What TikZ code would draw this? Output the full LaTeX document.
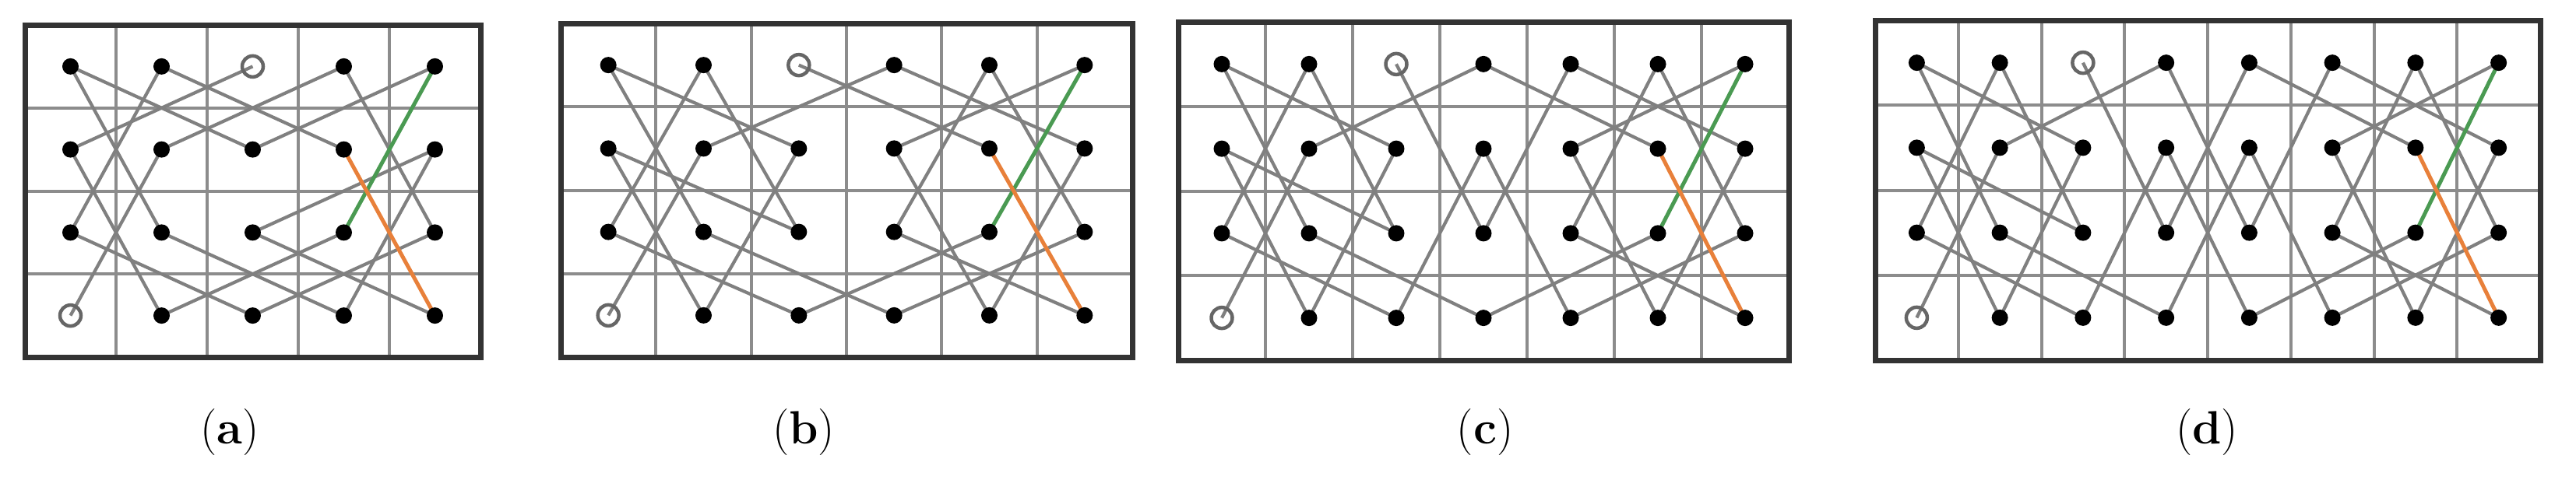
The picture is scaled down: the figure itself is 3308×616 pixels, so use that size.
\documentclass[tikz,border=0pt]{standalone}
\begin{document}
\begin{tikzpicture}[x=1pt,y=-1pt,
  grid/.style={line width=4pt,draw=black!45},
  frame/.style={line width=7pt,draw=black!80,line cap=round},
  edge/.style={line width=4.2pt,draw=black!50},
  gedge/.style={line width=5pt,draw={rgb,255:red,74;green,154;blue,82}},
  oedge/.style={line width=5pt,draw={rgb,255:red,232;green,128;blue,58}},
  dot/.style={circle,fill=black,inner sep=0pt,minimum width=19pt,minimum height=21pt},
  odot/.style={circle,draw=black!60,line width=4.5pt,inner sep=0pt,minimum width=24pt,minimum height=27pt},
  lab/.style={font=\fontsize{60}{70}\selectfont}]
\useasboundingbox (0,0) rectangle (3308,616);
\newcommand\kpanel[6]{%
  \pgfmathsetmacro\cw{(#4-#2)/#6}%
  \pgfmathsetmacro\ch{(#5-#3)/4}%
  \pgfmathtruncatemacro\cm{#6-1}%
  \foreach \c in {1,...,#6} \foreach \r in {1,...,4}
    \coordinate (#1-\c-\r) at ({#2+(\c-0.5)*\cw},{#3+(\r-0.5)*\ch});
  \foreach \i in {1,...,\cm} \draw[grid] ({#2+\i*\cw},#3) -- ({#2+\i*\cw},#5);
  \foreach \i in {1,2,3} \draw[grid] (#2,{#3+\i*\ch}) -- (#4,{#3+\i*\ch});
  \draw[frame] (#2,#3) rectangle (#4,#5);
}
\newcommand\kedges[4]{%
  \foreach \a/\b/\c/\d in {#2} \draw[edge] (#1-\a-\b) -- (#1-\c-\d);
  \pgfmathtruncatemacro\cp{#3-1}%
  \draw[gedge] (#1-#3-1) -- (#1-\cp-3);
  \draw[oedge] (#1-\cp-2) -- (#1-#3-4);
  \foreach \c in {1,...,#3} \foreach \r in {1,...,4}{
    \pgfmathtruncatemacro\s{(\c==3&&\r==1)||(\c==1&&\r==4)}
    \ifnum\s=0 \node[dot] (#1-d-\c-\r) at (#1-\c-\r) {};
    \else \node[odot] (#1-d-\c-\r) at (#1-\c-\r) {};\fi}
  \node[lab] (#1-lab) at (#4,556) {(\textbf{#1})};
}
\kpanel{a}{32}{32}{617}{459}{5}
\kedges{a}{1/1/3/2,1/1/2/3,2/1/4/2,2/1/1/3,3/1/1/2,4/1/2/2,4/1/5/3,5/1/3/2,2/2/1/4,5/2/3/3,5/2/4/4,1/2/2/4,1/3/3/4,2/3/4/4,3/3/5/4,4/3/2/4,5/3/3/4}{5}{295}
\kpanel{b}{720}{30}{1454}{459}{6}
\kedges{b}{1/1/3/2,1/1/2/3,2/1/1/3,2/1/3/3,3/1/5/2,4/1/2/2,4/1/6/2,5/1/4/3,5/1/6/3,6/1/4/2,1/2/3/3,1/2/2/4,2/2/1/4,3/2/2/4,4/2/5/4,6/2/5/4,1/3/3/4,2/3/4/4,4/3/6/4,5/3/3/4,6/3/4/4}{6}{1032}
\kpanel{c}{1513}{28}{2297}{463}{7}
\kedges{c}{1/1/3/2,1/1/2/3,2/1/1/3,2/1/3/3,3/1/4/3,4/1/2/2,4/1/6/2,5/1/7/2,5/1/4/3,6/1/5/3,6/1/7/3,7/1/5/2,1/2/3/3,1/2/2/4,2/2/1/4,3/2/2/4,4/2/3/4,4/2/5/4,5/2/6/4,7/2/6/4,1/3/3/4,2/3/4/4,5/3/7/4,6/3/4/4,7/3/5/4}{7}{1907}
\kpanel{d}{2408}{26}{3262}{463}{8}
\kedges{d}{1/1/3/2,1/1/2/3,2/1/1/3,2/1/3/3,3/1/4/3,4/1/2/2,4/1/5/3,5/1/4/3,5/1/7/2,6/1/8/2,6/1/5/3,7/1/6/3,7/1/8/3,8/1/6/2,1/2/3/3,1/2/2/4,2/2/1/4,3/2/2/4,4/2/3/4,4/2/5/4,5/2/4/4,5/2/6/4,6/2/7/4,8/2/7/4,1/3/3/4,2/3/4/4,6/3/8/4,7/3/5/4,8/3/6/4}{8}{2834}
\end{tikzpicture}
\end{document}
